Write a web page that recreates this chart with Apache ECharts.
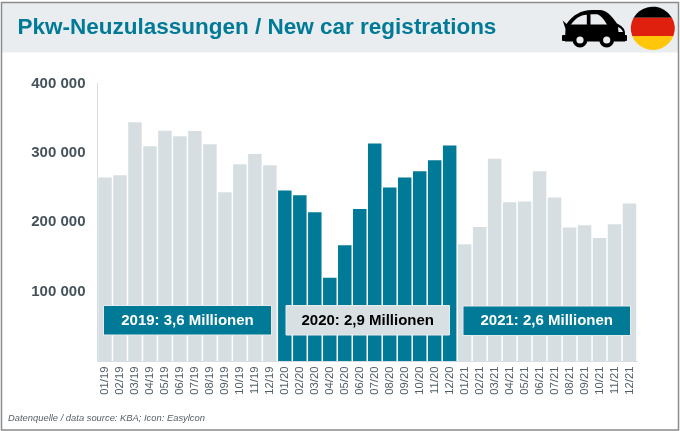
<!DOCTYPE html>
<html><head><meta charset="utf-8">
<style>html,body{margin:0;padding:0;background:#fff}#c{width:680px;height:431px}</style>
<script src="https://cdn.jsdelivr.net/npm/echarts@6/dist/echarts.min.js"></script>
</head><body><div id="c"></div>
<script>
const months = ['01','02','03','04','05','06','07','08','09','10','11','12'];
const values2019 = [264500,267800,344000,309700,331800,324000,331400,312600,243300,283700,298200,282300];
const values2020 = [245700,239000,214400,120100,166800,219200,313600,250000,264500,273600,289200,310700];
const values2021 = [168200,193200,291400,228900,229900,273500,235700,192300,195700,177300,197000,227000];
const titleText = 'Pkw-Neuzulassungen / New car registrations';
const sourceText = 'Datenquelle / data source: KBA; Icon: Easylcon';
const yearLabels = ['2019: 3,6 Millionen','2020: 2,9 Millionen','2021: 2,6 Millionen'];

const TEAL='#007a96', GREY='#d7dee1', BAND='#e9edf0';
const categories = ['19','20','21'].flatMap(y=>months.map(m=>m+'/'+y));
const mk=(arr,c)=>arr.map(v=>({value:v,itemStyle:{color:c}}));
const data=[...mk(values2019,GREY),...mk(values2020,TEAL),...mk(values2021,GREY)];

const shapes={
  flagTop:'M633.6 17.7A22.2 22.2 0 0 1 672 17.7Z',
  flagMid:'M633.6 17.7L672 17.7A22.2 22.2 0 0 1 673.4 36L632.2 36A22.2 22.2 0 0 1 633.6 17.7Z',
  flagBot:'M632.2 36L673.4 36A22.2 22.2 0 0 1 632.2 36Z',
  carBody:'M562.7 20.5 L566.5 24 C573 15 581 10 592 10 L600 10 C606 10 611 15 617 23.5 C621 25.5 625 28 625 33 L625 41.5 L565 41.5 L565.5 29 Z',
  carWinL:'M571 24.5 L586.8 24.5 L586.8 14.8 C580 15 575 19 571 24.5 Z',
  carWinR:'M590.5 14.2 L590.5 24.5 L607 24.5 C604 19.5 601 15.5 597.5 14.2 Z',
  carLamp:'M618 27 C620 27.5 622 29.5 623 32 L618.5 32 Z'
};
Object.keys(shapes).forEach(k=>echarts.graphic.registerShape(k,echarts.graphic.extendPath(shapes[k],{})));

function box(x,y,w,h,label,fill,color){
  return {type:'group',z:50,children:[
    {type:'rect',z:50,shape:{x,y,width:w,height:h},style:{fill,stroke:'#e6ebee',lineWidth:1}},
    {type:'text',z:51,x:x+w/2,y:y+h/2+0.5,style:{text:label,fill:color,font:'bold 15px "Liberation Sans"',align:'center',verticalAlign:'middle'}}
  ]};
}
const chart=echarts.init(document.getElementById('c'),null,{renderer:'canvas'});
chart.setOption({
  animation:false,
  backgroundColor:'#fff',
  grid:{left:97.5,right:43,top:83.5,bottom:70,containLabel:false},
  xAxis:{type:'category',data:categories,
    axisLine:{lineStyle:{color:GREY,width:1}},axisTick:{show:false},
    axisLabel:{rotate:90,interval:0,fontFamily:'Liberation Sans',fontSize:11.3,color:'#4f5d66',margin:5.5}},
  yAxis:{type:'value',min:0,max:400000,interval:100000,
    axisLine:{show:true,lineStyle:{color:GREY,width:1}},axisTick:{show:false},splitLine:{show:false},
    axisLabel:{margin:12,fontFamily:'Liberation Sans',fontWeight:'bold',fontSize:15,color:'#46535c',
      formatter:v=>v===0?'':String(v).replace(/(\d{3})$/,' $1')}},
  series:[{type:'bar',data,barCategoryGap:'10%',itemStyle:{borderWidth:0}}],
  graphic:[
    {type:'rect',z:-1,silent:true,shape:{x:2,y:3,width:676,height:49.5},style:{fill:BAND}},
    {type:'rect',z:40,silent:true,shape:{x:1.5,y:2.5,width:677,height:427.5},style:{fill:'none',stroke:'#8c8c8c',lineWidth:1.5}},
    {type:'text',z:41,x:17.5,y:28,style:{text:titleText,fill:TEAL,font:'bold 22.5px "Liberation Sans"',verticalAlign:'middle'}},
    {type:'text',z:41,x:8,y:418,style:{text:sourceText,fill:'#555f66',font:'italic 9.4px "Liberation Sans"',verticalAlign:'middle'}},
    box(103.5,305.5,168,29.5,yearLabels[0],TEAL,'#fff'),
    box(286,305.5,163.5,29.5,yearLabels[1],'#d9e0e3','#000'),
    box(463,306,167.5,29.5,yearLabels[2],TEAL,'#fff'),
    {type:'flagTop',z:41,style:{fill:'#000'}},
    {type:'flagMid',z:41,style:{fill:'#e0200f'}},
    {type:'flagBot',z:41,style:{fill:'#ffc60a'}},
    {type:'carBody',z:41,style:{fill:'#000'}},
    {type:'carWinL',z:42,style:{fill:BAND}},
    {type:'carWinR',z:42,style:{fill:BAND}},
    {type:'carLamp',z:42,style:{fill:BAND}},
    {type:'circle',z:43,shape:{cx:580,cy:40,r:5.5},style:{fill:BAND,stroke:'#000',lineWidth:3.8}},
    {type:'circle',z:43,shape:{cx:606.7,cy:40,r:5.5},style:{fill:BAND,stroke:'#000',lineWidth:3.8}},
    {type:'rect',z:41,shape:{x:562,y:35,width:8,height:6,r:1},style:{fill:'#000'}},
    {type:'rect',z:41,shape:{x:619.5,y:35,width:7.5,height:6,r:1},style:{fill:'#000'}}
  ]
});
</script></body></html>
